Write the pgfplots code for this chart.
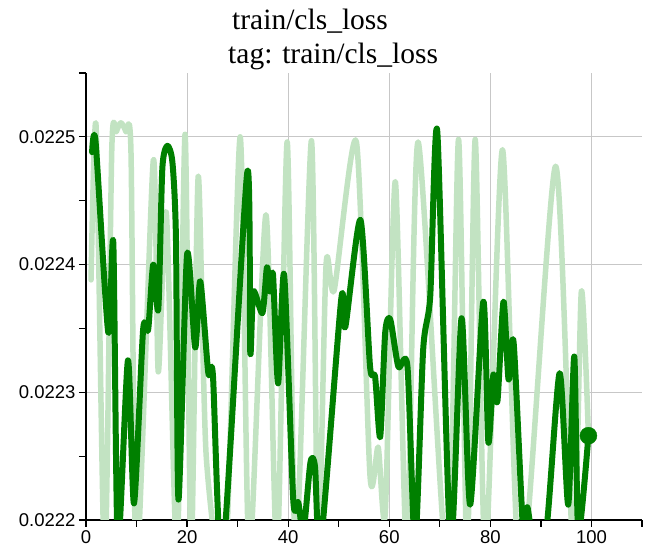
\documentclass[border=0pt]{standalone}
\usepackage{pgfplots}
\pgfplotsset{compat=1.18}
\usepackage{fontspec}
\setmainfont{Liberation Serif}
\newfontfamily\ticksf{Liberation Sans}
\definecolor{darkg}{RGB}{0,128,0}
\definecolor{lightg}{RGB}{194,227,194}
\begin{document}
\begin{tikzpicture}[x=1pt,y=1pt]
\path[use as bounding box] (-86,-34) rectangle (562,520);
\begin{axis}[
  at={(0,0)}, anchor=south west,
  width=556pt, height=447pt, scale only axis,
  xmin=0, xmax=110, ymin=0.0222, ymax=0.02255,
  axis x line=bottom, axis y line=left,
  axis line style={-, black, line width=1.4pt},
  every outer x axis line/.append style={-},
  every outer y axis line/.append style={-},
  xtick={0,20,...,100}, minor xtick={10,30,...,110},
  ytick={0.0222,0.0223,0.0224,0.0225},
  minor ytick={0.02225,0.02235,0.02245,0.02255},
  grid=major, major grid style={black!22, line width=0.9pt},
  tick align=outside, major tick length=7pt, minor tick length=7pt,
  tick style={black, line width=1.2pt},
  scaled y ticks=false,
  yticklabel style={/pgf/number format/fixed, /pgf/number format/precision=4, /pgf/number format/fixed zerofill},
  /pgf/number format/assume math mode=true,
  ticklabel style={font=\ticksf\fontsize{18.5}{20}\selectfont},
]
\addplot[lightg, line width=5.5pt, smooth, tension=0.42, line join=round, line cap=round] coordinates {
(1.0,0.022388) (2.0,0.022508) (3.7,0.022160) (5.1,0.022490) (6.0,0.022504) (6.9,0.022511) (7.9,0.022504) (8.9,0.022488) (10.0,0.022160) (13.3,0.022481) (14.3,0.022316) (15.9,0.022440) (18.0,0.022170) (19.6,0.022502) (20.8,0.022170) (22.2,0.022469) (23.8,0.022249) (27.5,0.022160) (30.5,0.022500) (32.3,0.022170) (35.6,0.022439) (37.8,0.022170) (39.8,0.022496) (41.5,0.022170) (44.6,0.022497) (45.9,0.022170) (47.5,0.022400) (49.1,0.022380) (53.5,0.022496) (56.2,0.022234) (57.8,0.022257) (59.2,0.022205) (61.2,0.022465) (63.5,0.022170) (65.7,0.022496) (71.5,0.022160) (73.7,0.022498) (75.4,0.022170) (77.0,0.022498) (79.0,0.022170) (82.4,0.022490) (86.0,0.022150) (92.9,0.022477) (96.4,0.022170) (98.0,0.022379) (99.4,0.022266)
};
\addplot[darkg, line width=6pt, smooth, tension=0.42, line join=round, line cap=round] coordinates {
(1.2,0.022488) (1.9,0.022496) (4.4,0.022347) (5.4,0.022417) (6.3,0.022180) (8.3,0.022325) (9.5,0.022213) (11.3,0.022349) (12.3,0.022349) (13.3,0.022400) (14.3,0.022365) (15.1,0.022475) (16.1,0.022493) (17.1,0.022480) (17.8,0.022420) (18.3,0.022216) (20.0,0.022408) (21.6,0.022335) (22.6,0.022387) (24.2,0.022315) (25.1,0.022314) (27.0,0.022170) (31.9,0.022472) (32.5,0.022331) (33.1,0.022379) (34.9,0.022362) (35.8,0.022398) (36.4,0.022379) (37.0,0.022392) (38.0,0.022307) (39.2,0.022392) (41.0,0.022216) (42.0,0.022214) (43.0,0.022190) (44.4,0.022245) (45.3,0.022242) (46.4,0.022180) (50.5,0.022373) (51.3,0.022351) (54.3,0.022435) (56.2,0.022320) (57.2,0.022312) (58.2,0.022265) (59.2,0.022347) (60.2,0.022357) (61.8,0.022320) (63.6,0.022320) (65.1,0.022180) (66.7,0.022333) (68.1,0.022375) (69.5,0.022504) (72.1,0.022180) (74.3,0.022358) (76.0,0.022212) (78.6,0.022371) (79.6,0.022261) (80.6,0.022314) (81.4,0.022293) (82.6,0.022371) (83.6,0.022310) (84.6,0.022339) (86.5,0.022190) (87.3,0.022210) (88.3,0.022190) (91.0,0.022190) (93.7,0.022315) (95.4,0.022212) (96.6,0.022328) (97.4,0.022190) (99.4,0.022266)
};
\addplot[only marks, mark=*, mark size=8.5pt, darkg] coordinates {(99.4,0.022266)};
\end{axis}
\node[anchor=base west, inner sep=0pt, font=\fontsize{29.5}{34}\selectfont] at (146,490) {train/cls\_loss};
\node[anchor=base west, inner sep=0pt, font=\fontsize{29.5}{34}\selectfont] at (142,456) {tag: train/cls\_loss};
\end{tikzpicture}
\end{document}
